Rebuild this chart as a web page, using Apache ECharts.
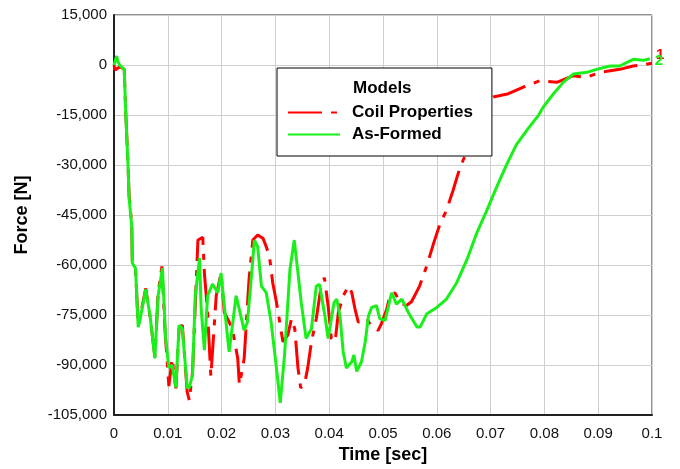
<!DOCTYPE html>
<html>
<head>
<meta charset="utf-8">
<script src="https://cdn.jsdelivr.net/npm/echarts@6/dist/echarts.min.js"></script>
<style>
  html, body { margin: 0; padding: 0; background: #fff; }
  #chart { width: 680px; height: 469px; }
</style>
</head>
<body>
<div id="chart"></div>
<script>
// Coil Properties (red, dash-dot)
const coilTime = [0, 0.0002, 0.0011, 0.0019, 0.0022, 0.0026, 0.0028, 0.0033, 0.0034, 0.0037, 0.0040, 0.0045, 0.0048, 0.0059, 0.0067, 0.0076, 0.0082, 0.0089, 0.0095, 0.0102, 0.0108, 0.0115, 0.0121, 0.0127, 0.0136, 0.0140, 0.0146, 0.0156, 0.0165, 0.0168, 0.0174, 0.0180, 0.0190, 0.0199, 0.0205, 0.0211, 0.0220, 0.0230, 0.0233, 0.0239, 0.0242, 0.0251, 0.0258, 0.0267, 0.0277, 0.0283, 0.0289, 0.0295, 0.0302, 0.0308, 0.0314, 0.0323, 0.0330, 0.0336, 0.0342, 0.0347, 0.0354, 0.0360, 0.0367, 0.0376, 0.0385, 0.0391, 0.0398, 0.0404, 0.0411, 0.0417, 0.0426, 0.0436, 0.0442, 0.0448, 0.0454, 0.0464, 0.0470, 0.0479, 0.0491, 0.0497, 0.0507, 0.0513, 0.0522, 0.0532, 0.0543, 0.0553, 0.0568, 0.0581, 0.0594, 0.0606, 0.0618, 0.0630, 0.0643, 0.0656, 0.0671, 0.0690, 0.0705, 0.0733, 0.0761, 0.0792, 0.0823, 0.0854, 0.0878, 0.0903, 0.0940, 0.0965, 0.1000];
const coilForce = [0, -1500, -500, -1300, -15000, -29500, -39000, -48000, -59000, -60000, -61500, -78000, -76000, -67000, -75500, -87500, -68500, -60400, -80000, -96300, -88000, -97000, -79000, -78000, -98000, -100600, -92000, -52500, -51700, -62400, -74200, -93400, -69200, -62400, -74200, -76100, -79100, -88000, -95900, -90900, -87900, -64300, -52500, -51000, -52000, -54500, -57400, -65300, -71200, -77100, -83000, -81000, -76100, -79100, -90900, -96800, -95800, -90900, -83000, -76100, -66300, -63800, -72200, -82000, -83000, -74200, -69200, -66300, -68300, -73200, -77100, -77100, -76100, -78600, -79600, -77600, -73200, -69200, -68300, -71200, -72200, -71000, -66300, -60400, -53500, -47600, -43600, -37700, -30800, -25900, -19000, -12600, -9600, -8600, -6600, -4700, -5200, -3200, -3700, -2200, -1300, -300, 500];

// As-Formed (green, solid)
const formedTime = [0, 0.0005, 0.0007, 0.0011, 0.0019, 0.0022, 0.0026, 0.0028, 0.0033, 0.0034, 0.0037, 0.0040, 0.0045, 0.0048, 0.0059, 0.0067, 0.0076, 0.0082, 0.0090, 0.0096, 0.0102, 0.0108, 0.0115, 0.0121, 0.0127, 0.0136, 0.0140, 0.0146, 0.0151, 0.0159, 0.0162, 0.0168, 0.0174, 0.0183, 0.0193, 0.0199, 0.0205, 0.0214, 0.0227, 0.0242, 0.0248, 0.0255, 0.0261, 0.0267, 0.0274, 0.0283, 0.0292, 0.0302, 0.0309, 0.0317, 0.0327, 0.0335, 0.0342, 0.0348, 0.0357, 0.0367, 0.0376, 0.0382, 0.0392, 0.0398, 0.0409, 0.0414, 0.0420, 0.0426, 0.0432, 0.0442, 0.0446, 0.0451, 0.0460, 0.0467, 0.0473, 0.0479, 0.0488, 0.0494, 0.0504, 0.0516, 0.0525, 0.0535, 0.0547, 0.0563, 0.0569, 0.0581, 0.0600, 0.0618, 0.0637, 0.0656, 0.0674, 0.0693, 0.0711, 0.0730, 0.0748, 0.0770, 0.0789, 0.0798, 0.0817, 0.0835, 0.0854, 0.0879, 0.0897, 0.0922, 0.0940, 0.0965, 0.0984, 0.0996];
const formedForce = [0, 2700, 1100, -100, -1300, -15100, -29800, -39700, -48500, -59400, -59800, -61000, -78600, -76600, -67300, -75200, -88000, -69200, -60900, -82000, -90800, -90000, -96700, -78100, -79000, -96700, -96800, -92900, -69200, -57900, -73100, -85500, -69200, -65700, -68300, -62400, -72200, -86000, -69200, -79600, -77100, -64200, -52500, -54500, -66300, -68300, -77100, -90900, -101300, -87000, -61400, -52500, -62400, -71200, -82000, -79100, -66300, -65800, -75200, -82000, -71200, -70200, -75200, -86000, -90900, -89000, -87000, -91900, -89000, -83000, -75200, -72700, -72200, -76100, -76600, -68300, -71700, -70200, -74200, -78600, -78600, -74700, -72700, -70200, -65300, -58400, -50500, -43600, -36700, -29800, -23900, -19000, -15100, -12600, -8600, -5200, -2700, -2200, -1300, -300, -300, 1700, 1400, 1900];

const seriesNames = ['Coil Properties', 'As-Formed'];
const legendTitle = 'Models';
const xTitle = 'Time [sec]';
const yTitle = 'Force [N]';

const zip = (xs, ys) => xs.map((x, i) => [x, ys[i]]);

const chart = echarts.init(document.getElementById('chart'));

const labelFont = 'Liberation Sans, Arial, sans-serif';

const option = {
  animation: false,
  backgroundColor: '#fff',
  title: {
    text: legendTitle,
    left: 353,
    top: 80,
    textStyle: { fontFamily: labelFont, fontSize: 17, fontWeight: 'bold', color: '#000' },
    padding: 0,
    z: 10
  },
  legend: {
    data: seriesNames,
    orient: 'vertical',
    left: 277,
    top: 68,
    padding: [36, 19, 13, 10],
    itemWidth: 52,
    itemHeight: 14,
    itemGap: 5,
    backgroundColor: '#fff',
    borderColor: '#000',
    borderWidth: 1,
    itemStyle: { opacity: 0 },
    textStyle: { fontFamily: labelFont, fontSize: 17, fontWeight: 'bold', color: '#000', padding: [0, 0, 0, 7] }
  },
  grid: {
    left: 114,
    right: 28,
    top: 15,
    bottom: 48,
    show: true,
    borderColor: '#222',
    borderWidth: 1
  },
  xAxis: {
    type: 'value',
    min: 0,
    max: 0.1,
    interval: 0.01,
    name: xTitle,
    nameLocation: 'middle',
    nameGap: 28,
    nameTextStyle: { fontFamily: labelFont, fontSize: 18, fontWeight: 'bold', color: '#000' },
    axisLine: { onZero: false, lineStyle: { color: '#222', width: 2 } },
    axisTick: { show: false },
    axisLabel: {
      margin: 11,
      color: '#111',
      fontFamily: labelFont,
      fontSize: 15,
      formatter: v => String(parseFloat(v.toFixed(2)))
    },
    splitLine: { show: true, lineStyle: { color: '#cfcfcf', width: 1 } }
  },
  yAxis: {
    type: 'value',
    min: -105000,
    max: 15000,
    interval: 15000,
    name: yTitle,
    nameLocation: 'middle',
    nameGap: 83,
    nameTextStyle: { fontFamily: labelFont, fontSize: 18, fontWeight: 'bold', color: '#000' },
    axisLine: { show: true, onZero: false, lineStyle: { color: '#222', width: 2 } },
    axisTick: { show: false },
    axisLabel: {
      margin: 7,
      color: '#111',
      fontFamily: labelFont,
      fontSize: 15,
      formatter: v => v.toLocaleString('en-US')
    },
    splitLine: { show: true, lineStyle: { color: '#cfcfcf', width: 1 } }
  },
  series: [
    {
      name: seriesNames[0],
      type: 'line',
      data: zip(coilTime, coilForce),
      symbol: 'none',
      color: '#ff0000',
      lineStyle: { color: '#ff0000', width: 3, type: [34, 9, 6, 9] },
      endLabel: {
        show: true,
        formatter: '1',
        color: '#ff0000',
        fontFamily: labelFont,
        fontSize: 15,
        fontWeight: 'bold',
        distance: 4,
        offset: [0, -8]
      },
      z: 2
    },
    {
      name: seriesNames[1],
      type: 'line',
      data: zip(formedTime, formedForce),
      symbol: 'none',
      color: '#19f019',
      lineStyle: { color: '#19f019', width: 3 },
      endLabel: {
        show: true,
        formatter: '2',
        color: '#19f019',
        fontFamily: labelFont,
        fontSize: 15,
        fontWeight: 'bold',
        distance: 5,
        offset: [0, 2]
      },
      z: 3
    }
  ]
};

chart.setOption(option);
</script>
</body>
</html>
